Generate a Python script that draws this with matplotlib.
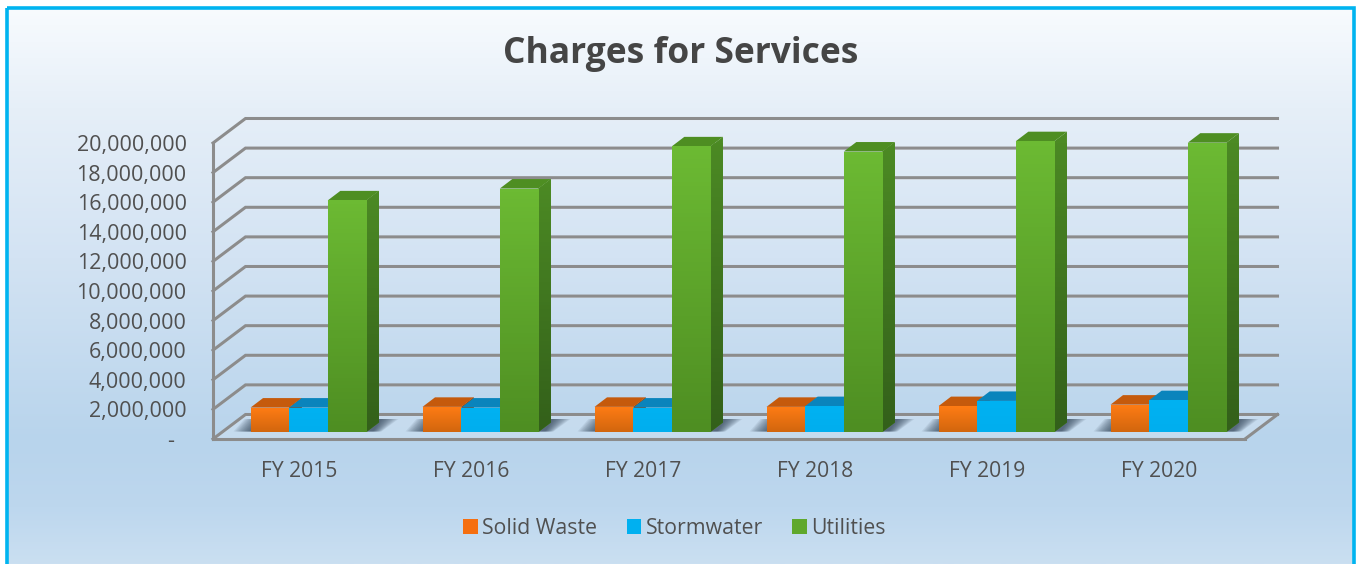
import numpy as np
import matplotlib
matplotlib.use("Agg")
import matplotlib.pyplot as plt
from matplotlib.colors import LinearSegmentedColormap
from matplotlib.patches import Patch, Polygon, Rectangle
from matplotlib.transforms import Affine2D, IdentityTransform

plt.rcParams['font.family'] = ['Open Sans', 'DejaVu Sans']

categories = ["FY 2015", "FY 2016", "FY 2017", "FY 2018", "FY 2019", "FY 2020"]
solid_waste = [1650000, 1700000, 1700000, 1700000, 1750000, 1850000]
stormwater = [1650000, 1650000, 1650000, 1750000, 2100000, 2150000]
utilities = [15650000, 16450000, 19300000, 18950000, 19650000, 19550000]
series_names = ["Solid Waste", "Stormwater", "Utilities"]
y_ticks = list(range(0, 20000001, 2000000))
y_labels = ["-  "] + [f"{v:,}" for v in y_ticks[1:]]

W, H = 1357, 564
TEXT = "#505050"
GRID = "#8C8C8C"
styles = [
    dict(top="#FF7C14", bottom="#D2660E", roof="#C55A0C", side_top="#A34A0A", side_bottom="#8A3F08", legend="#F56F10"),
    dict(top="#00B2F2", bottom="#00AEEE", roof="#0A84BC", side_top="#076E9C", side_bottom="#065F88", legend="#00B0F0"),
    dict(top="#6CBA33", bottom="#4E8E22", roof="#4E8E22", side_top="#4C8A24", side_bottom="#33601A", legend="#5FA82C"),
]

fig = plt.figure(figsize=(W / 100, H / 100), dpi=100, facecolor="white")

# Background panel
bg = fig.add_axes([0, 0, 1, 1], zorder=0)
bg.set_xlim(0, W)
bg.set_ylim(H, 0)
bg.axis("off")
bg_cmap = LinearSegmentedColormap.from_list("bg", [
    (0.0, "#F8FBFE"), (0.18, "#E6EFF8"), (0.45, "#D3E3F3"),
    (0.78, "#B8D4EC"), (0.9, "#BDD7EE"), (1.0, "#CADFF1")])
bg.imshow(np.linspace(0, 1, 256)[:, None], cmap=bg_cmap, aspect="auto",
          extent=[7, W - 3, H, 7], zorder=0)
bg.set_xlim(0, W)
bg.set_ylim(H, 0)
bg.add_patch(Rectangle((6.8, 7.5), W - 10, H + 10, fill=False, ec="#00B4F0", lw=2.6, zorder=1))

# Chart plane: the front of the 3-D box
LEFT, RIGHT, FLOOR, ROOF = 213, 1245, 439, 143
ax = fig.add_axes([LEFT / W, 1 - FLOOR / H, (RIGHT - LEFT) / W, (FLOOR - ROOF) / H], zorder=2)
ax.patch.set_alpha(0)
ax.set_xlim(0, len(categories))
ax.set_ylim(0, 20000000)
for name, s in ax.spines.items():
    s.set_visible(name in ("left", "bottom"))
    s.set_color(GRID)
    s.set_linewidth(2.2)
    s.set_zorder(2)
ax.set_xticks(np.arange(len(categories)) + 0.5)
ax.set_xticklabels(categories, fontsize=15.2, color=TEXT)
ax.set_yticks(y_ticks)
ax.set_yticklabels(y_labels, fontsize=15.5, color=TEXT, va="center_baseline")
ax.tick_params(axis="x", length=0, pad=16)
ax.tick_params(axis="y", length=0, pad=19)

WALL = np.array([32.5, 24.5])     # depth of the box, in px
BAR_SHIFT = np.array([9.5, 7.0])  # bars sit slightly behind the front edge
BAR_DEPTH = np.array([12.5, 9.5])
GROUP = 0.674
identity = IdentityTransform()
to_px = lambda x, y: ax.transData.transform((x, y))

# Floor and walls
floor_pts = [to_px(0, 0), to_px(len(categories), 0),
             to_px(len(categories), 0) + WALL, to_px(0, 0) + WALL]
ax.add_patch(Polygon(floor_pts, closed=True, fc="#D5E4F2", alpha=0.45, ec="none",
                     transform=identity, clip_on=False, zorder=1))
for v in y_ticks:
    a = to_px(0, v)
    b = a + WALL
    c = to_px(len(categories), v) + WALL
    ax.plot([a[0], b[0], c[0]], [a[1] - 1.2, b[1] - 1.2, c[1] - 1.2], color="white",
            alpha=0.35, lw=1.0, transform=identity, clip_on=False, zorder=1.4)
    ax.plot([a[0], b[0], c[0]], [a[1], b[1], c[1]], color=GRID, lw=2.2,
            transform=identity, clip_on=False, zorder=1.5, solid_joinstyle="miter")
end = to_px(len(categories), 0)
ax.plot([end[0], end[0] + WALL[0]], [end[1], end[1] + WALL[1]], color=GRID, lw=2.2,
        transform=identity, clip_on=False, zorder=1.5)

# Soft shadows on the floor
all_series = [solid_waste, stormwater, utilities]
bw = GROUP / len(all_series)
for i in range(len(categories)):
    x0 = to_px(i + 0.5 - GROUP / 2, 0) + BAR_SHIFT
    x1 = to_px(i + 0.5 + GROUP / 2, 0) + BAR_SHIFT
    for k in range(12):
        grow = 14 - k * 1.5
        pts = [x0 + [-grow - 3, 0.5], x1 + [grow * 0.5 + 8, 0.5],
               x1 + [grow + 18, 13], x0 + [-grow + 8, 13]]
        ax.add_patch(Polygon(pts, closed=True, fc="#24364A", alpha=0.085, ec="none",
                             transform=identity, clip_on=False, zorder=1.8))

# Bars
offset = ax.transData + Affine2D().translate(*BAR_SHIFT)
for j, (values, st) in enumerate(zip(all_series, styles)):
    xs = np.arange(len(categories)) + 0.5 - GROUP / 2 + bw * (j + 0.5)
    bars = ax.bar(xs, values, width=bw, color=st["bottom"], linewidth=0,
                  transform=offset, zorder=3 + j * 0.1, clip_on=False)
    cmap = LinearSegmentedColormap.from_list("b", [st["bottom"], st["top"]])
    side_cmap = LinearSegmentedColormap.from_list("s", [st["side_bottom"], st["side_top"]])
    for x, v, bar in zip(xs, values, bars):
        left, right = x - bw / 2, x + bw / 2
        bl = to_px(left, 0) + BAR_SHIFT
        br = to_px(right, 0) + BAR_SHIFT
        tl = to_px(left, v) + BAR_SHIFT
        tr = to_px(right, v) + BAR_SHIFT
        im = ax.imshow(np.linspace(1, 0, 64)[:, None], cmap=cmap, aspect="auto",
                       extent=[left, right, 0, v], transform=offset,
                       zorder=3.01 + j * 0.1)
        im.set_clip_path(bar)
        side = Polygon([br, br + BAR_DEPTH, tr + BAR_DEPTH, tr], closed=True,
                       fc=st["side_top"], ec="none", transform=identity,
                       clip_on=False, zorder=2.9 + j * 0.1)
        ax.add_patch(side)
        sim = ax.imshow(np.linspace(1, 0, 64)[:, None], cmap=side_cmap, aspect="auto",
                        extent=[br[0], br[0] + BAR_DEPTH[0], br[1], tr[1] + BAR_DEPTH[1]],
                        transform=identity, zorder=2.91 + j * 0.1)
        sim.set_clip_path(side)
        ax.add_patch(Polygon([tl, tr, tr + BAR_DEPTH, tl + BAR_DEPTH], closed=True,
                             fc=st["roof"], ec="none", transform=identity,
                             clip_on=False, zorder=2.95 + j * 0.1))
ax.set_xlim(0, len(categories))
ax.set_ylim(0, 20000000)

fig.text(681 / W, 1 - 54 / H, "Charges for Services", ha="center", va="center",
         fontsize=25.5, fontweight="bold", color="#454545")

handles = [Patch(fc=st["legend"], ec="none") for st in styles]
fig.legend(handles, series_names, loc="center", bbox_to_anchor=(674.5 / W, 1 - 528.5 / H),
           ncol=3, frameon=False, fontsize=15.3, labelcolor=TEXT, handlelength=0.68,
           handleheight=0.68, handletextpad=0.2, columnspacing=1.4)

fig.savefig("out.png", dpi=100)
